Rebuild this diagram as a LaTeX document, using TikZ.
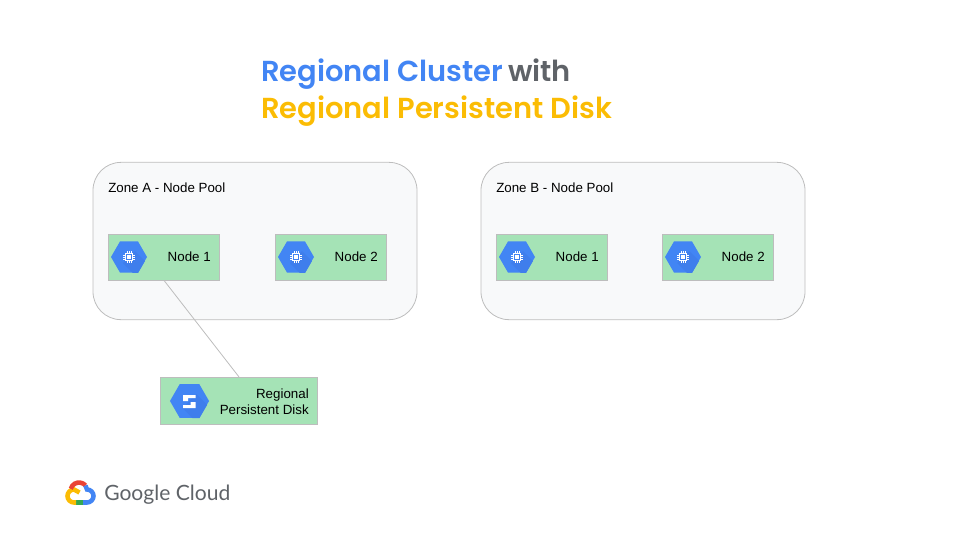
\documentclass[tikz,border=0pt]{standalone}
\usepackage{fontspec}
\setmainfont{Liberation Sans}
\newfontfamily\titlefont[BoldFont={Poppins SemiBold}]{Poppins}
\newfontfamily\logofont{Lato}
\usetikzlibrary{shapes.geometric}
\definecolor{gblue}{HTML}{4285F4}
\definecolor{gdark}{HTML}{3F7EEC}
\definecolor{gyellow}{HTML}{FBBC04}
\definecolor{gred}{HTML}{EA4335}
\definecolor{ggreen}{HTML}{34A853}
\definecolor{ggray}{HTML}{5F6368}
\definecolor{poolfill}{HTML}{F8F9FA}
\definecolor{poolline}{HTML}{BDBDBD}
\definecolor{nodegreen}{HTML}{A5E3B6}
\tikzset{
  pool/.style={draw=poolline,fill=poolfill,rounded corners=21pt,minimum width=243pt,minimum height=118pt,line width=.6pt},
  vmbox/.style={draw=poolline,fill=nodegreen,minimum width=83.5pt,minimum height=34.5pt,line width=.6pt},
  hexicon/.style={regular polygon,regular polygon sides=6,fill=gblue,inner sep=0pt},
  plain/.style={inner sep=0pt,font=\fontsize{10}{12}\selectfont,text=black},
  title/.style={inner sep=0pt,anchor=base west,font=\titlefont\bfseries\fontsize{21.7}{26}\selectfont},
  logoarc/.style={line width=3.4pt}
}
\newcommand{\hexshade}[2]{
  \begin{scope}
    \clip (#1.corner 1) -- (#1.corner 2) -- (#1.corner 3) -- (#1.corner 4) -- (#1.corner 5) -- (#1.corner 6) -- cycle;
    \fill[gdark] ([shift={(#2,-#2)}]#1.center) -- ++(30,30) -- ++(-2*#2,2*#2) -- ++(-30,-30) -- cycle;
  \end{scope}
}
\newcommand{\chipicon}[1]{
  \node[draw=white,line width=.7pt,minimum size=5.6pt,inner sep=0pt] (#1chip) at (#1) {};
  \node[fill=white,minimum size=2.4pt,inner sep=0pt] (#1core) at (#1) {};
  \foreach \t in {-1.5,0,1.5}{
    \draw[white,line width=.3pt] ([xshift=\t pt]#1chip.north) -- +(0,1.2pt);
    \draw[white,line width=.3pt] ([xshift=\t pt]#1chip.south) -- +(0,-1.2pt);
    \draw[white,line width=.3pt] ([yshift=\t pt]#1chip.east) -- +(1.2pt,0);
    \draw[white,line width=.3pt] ([yshift=\t pt]#1chip.west) -- +(-1.2pt,0);
  }
}
\begin{document}
\begin{tikzpicture}[x=.75pt,y=-.75pt]
  \useasboundingbox (0,0) rectangle (960,540);
  % Title
  \node[title,text=gblue] (titleA) at (261,81) {Regional Cluster};
  \node[title,text=ggray] (titleB) at (508,81) {with};
  \node[title,text=gyellow] (titleC) at (261,118) {Regional Persistent Disk};
  % Zone boxes
  \node[pool] (zoneA) at (255,241) {};
  \node[pool] (zoneB) at (643,241) {};
  \node[plain,anchor=west] (zoneAtext) at (108,188) {Zone A - Node Pool};
  \node[plain,anchor=west] (zoneBtext) at (496,188) {Zone B - Node Pool};
  % Nodes
  \foreach \name/\x/\lab in {nodeAa/164/Node 1,nodeAb/331/Node 2,nodeBa/552/Node 1,nodeBb/718/Node 2}{
    \node[vmbox] (\name) at (\x,257) {};
    \node[plain,anchor=east] (\name text) at (\x+47,257) {\lab};
    \node[hexicon,minimum size=27pt] (\name hex) at (\x-35,257) {};
    \hexshade{\name hex}{6}
    \chipicon{\name hex}
  }
  % Disk
  \node[vmbox,minimum width=117.5pt,minimum height=35.5pt] (disk) at (239,401) {};
  \node[plain,align=right,anchor=east,font=\fontsize{10}{12.4}\selectfont] (disktext) at (309,401.5) {Regional\\Persistent Disk};
  \node[hexicon,minimum size=29.3pt] (diskhex) at (189.5,401) {};
  \hexshade{diskhex}{7}
  \fill[white] (183,395) -- (195.5,395) -- (195.5,398) -- (188,398) -- (188,401) -- (183,401) -- cycle;
  \fill[white] (195.5,408) -- (183,408) -- (183,405) -- (190.5,405) -- (190.5,402) -- (195.5,402) -- cycle;
  % Connector
  \draw[poolline,line width=.6pt] (nodeAa.south) -- (disk.north);
  % Logo
  \draw[ggreen,logoarc] (85,502.5) -- (74,502.5);
  \draw[gyellow,logoarc] (76,502.5) -- (74,502.5) arc (90:270:6.5) -- (79.5,492.5);
  \draw[gred,logoarc] (70.8,488.8) arc (195:320:8.5);
  \draw[gblue,logoarc] (85.5,485.5) -- (87,489.5) arc (270:450:6.5) -- (83,502.5);
  \node[inner sep=0pt,anchor=base west,text=ggray,font=\logofont\fontsize{15.8}{19}\selectfont] (logotext) at (104,500) {Google Cloud};
\end{tikzpicture}
\end{document}
